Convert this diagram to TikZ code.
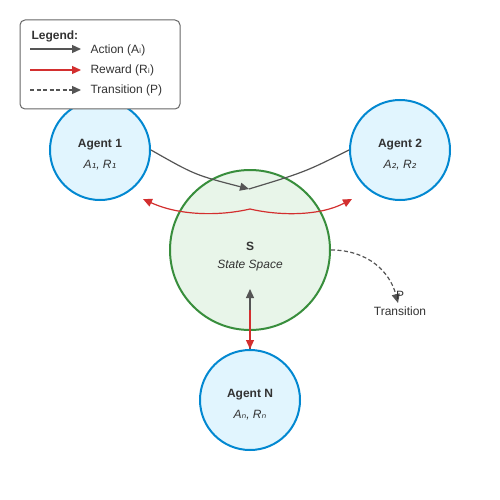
\documentclass[tikz,border=0pt]{standalone}
\usepackage{fontspec}
\setmainfont{Liberation Sans}
\newfontfamily\dejavu{DejaVu Sans}
\usetikzlibrary{arrows.meta}
\definecolor{actgray}{HTML}{555555}
\definecolor{rewred}{HTML}{D32F2F}
\definecolor{agblue}{HTML}{0288D1}
\definecolor{agfill}{HTML}{E1F5FE}
\definecolor{stgreen}{HTML}{388E3C}
\definecolor{stfill}{HTML}{E8F5E9}
\definecolor{txt}{HTML}{333333}
\newcommand{\sbs}[1]{{\dejavu\fontsize{12}{14}\selectfont #1}}
\tikzset{
  agentnode/.style={circle, draw=agblue, fill=agfill, line width=2pt, minimum size=100pt, inner sep=0pt},
  statenode/.style={circle, draw=stgreen, fill=stfill, line width=2pt, minimum size=160pt, inner sep=0pt},
  titletext/.style={text=txt, font=\fontsize{12}{14}\selectfont\bfseries},
  subtext/.style={text=txt, font=\fontsize{12}{14}\selectfont\itshape},
  plaintext/.style={text=txt, font=\fontsize{12}{14}\selectfont},
  tip/.style={-{Triangle[length=9pt,width=8pt]}},
  actarrow/.style={tip, draw=actgray, line width=1.2pt},
  actline/.style={draw=actgray, line width=1.2pt},
  rewarrow/.style={tip, draw=rewred, line width=1.2pt},
  transarrow/.style={tip, draw=actgray, line width=1.2pt, dash pattern=on 4pt off 2.5pt},
}
\begin{document}
\begin{tikzpicture}[x=1pt,y=-1pt]
\useasboundingbox (0,0) rectangle (500,500);
\fill[white] (0,0) rectangle (500,500);

% nodes
\node[statenode] (state) at (250,250) {};
\node[titletext] (stateS) at (250,246) {S};
\node[subtext] (stateL) at (250,266) {State Space};

\node[agentnode] (a1) at (100,150) {};
\node[titletext] (a1t) at (100,145) {Agent 1};
\node[subtext] (a1s) at (100,165) {A\sbs{₁}, R\sbs{₁}};

\node[agentnode] (a2) at (400,150) {};
\node[titletext] (a2t) at (400,145) {Agent 2};
\node[subtext] (a2s) at (400,165) {A\sbs{₂}, R\sbs{₂}};

\node[agentnode] (aN) at (250,400) {};
\node[titletext] (aNt) at (250,395) {Agent N};
\node[subtext] (aNs) at (250,415) {A\sbs{ₙ}, R\sbs{ₙ}};

% coordinates
\coordinate (act) at (249,189);
\coordinate (rew) at (250,209);
\coordinate (rewL) at (143,199);
\coordinate (rewR) at (352,199);
\coordinate (upTip) at (250,289);
\coordinate (redStart) at (250,310);
\coordinate (transEnd) at (398,303);

% actions
\draw[actline] (a2.west) .. controls (305,172) .. (act);
\draw[actarrow] (a1.east) .. controls (195,175) .. (act);

% rewards
\draw[rewarrow] (rew) .. controls (220,216) and (180,216) .. (rewL);
\draw[rewarrow] (rew) .. controls (280,216) and (320,216) .. (rewR);

% agent N
\draw[actarrow] (aN.north) -- (upTip);
\draw[rewarrow] (redStart) -- (aN.north);

% transition
\draw[transarrow] (state.east) .. controls (368,250) and (390,272) .. (transEnd);
\node[plaintext] (Plab) at (400,295) {P};
\node[plaintext] (Tlab) at (400,311) {Transition};

% legend
\node[draw=actgray!90, fill=white, line width=1pt, rounded corners=5pt, minimum width=160pt, minimum height=89pt, inner sep=0pt] (legend) at (100,64.5) {};
\node[titletext, anchor=west] (lgt) at (28,36) {Legend:};
\coordinate (l1a) at (30,49); \coordinate (l1b) at (81,49);
\coordinate (l2a) at (30,70); \coordinate (l2b) at (81,70);
\coordinate (l3a) at (30,90); \coordinate (l3b) at (81,90);
\draw[actarrow] (l1a) -- (l1b);
\draw[rewarrow] (l2a) -- (l2b);
\draw[transarrow] (l3a) -- (l3b);
\node[plaintext, anchor=west] (lg1) at (87,50) {Action (A\sbs{ᵢ})};
\node[plaintext, anchor=west] (lg2) at (87,70) {Reward (R\sbs{ᵢ})};
\node[plaintext, anchor=west] (lg3) at (87,90) {Transition (P)};
\end{tikzpicture}
\end{document}
